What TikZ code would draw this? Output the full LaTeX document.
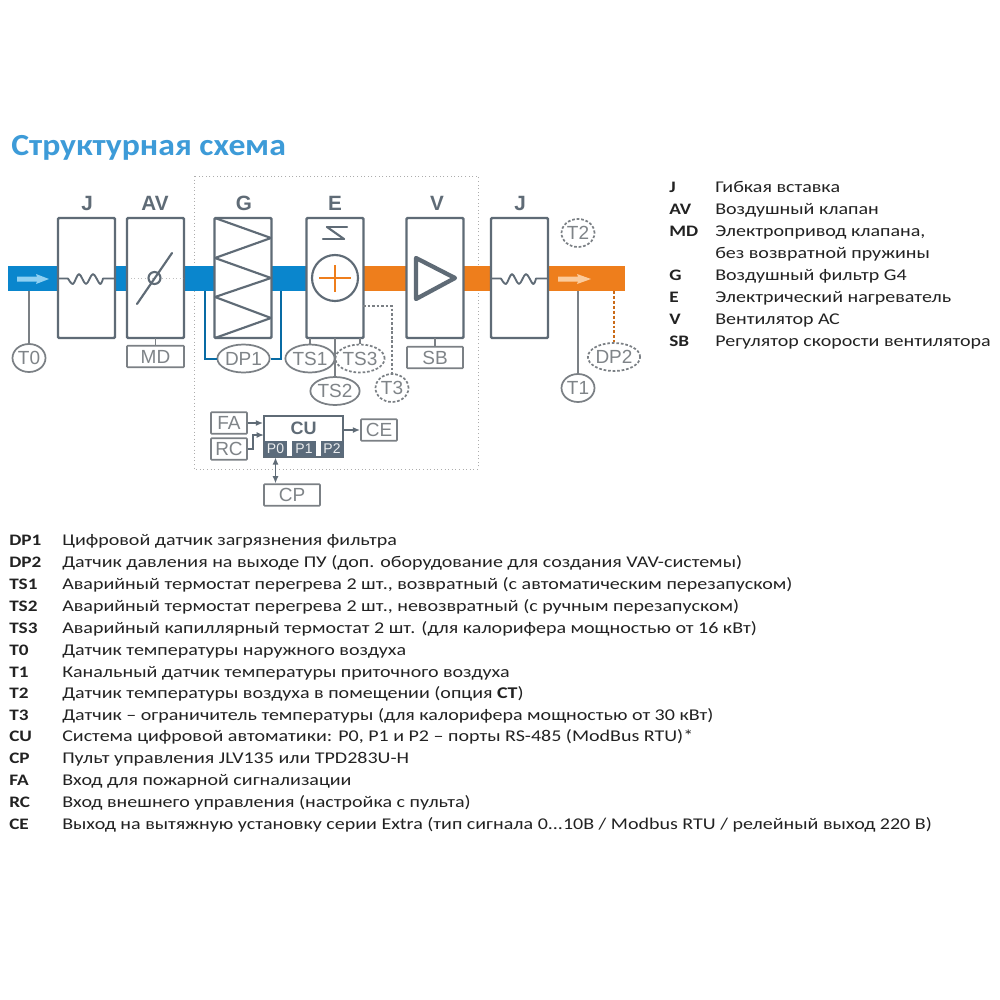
\documentclass[tikz,border=0pt]{standalone}
\usepackage{fontspec}
\setmainfont[FakeStretch=1.22]{Carlito}
\newfontfamily\keyf[FakeStretch=1.2]{Carlito}
\newfontfamily\titlef[FakeStretch=1.10]{Carlito}
\newfontfamily\arialf{Liberation Sans}
\usetikzlibrary{arrows.meta,shapes.geometric}
\definecolor{duB}{HTML}{0A86CD}
\definecolor{duO}{HTML}{EE7E1C}
\definecolor{arB}{HTML}{8FD0F2}
\definecolor{arO}{HTML}{FBCB9C}
\definecolor{lnG}{HTML}{5F6B76}
\definecolor{elG}{HTML}{7B8085}
\definecolor{txG}{HTML}{7F8488}
\definecolor{ttl}{HTML}{3D9BD8}
\definecolor{lgd}{HTML}{222222}
\definecolor{prt}{HTML}{5B6B7B}
\tikzset{
 x=0.75pt,y=-0.75pt,
 unitbox/.style={draw=lnG,fill=white,line width=1.8pt,rounded corners=0.8pt,minimum width=42.75pt,minimum height=90pt,inner sep=0pt},
 heading/.style={font=\arialf\bfseries\fontsize{15.5pt}{16pt}\selectfont,text=lnG,inner sep=0pt},
 sensor/.style={draw=elG,line width=1.3pt,ellipse,minimum width=#1*0.75pt,minimum height=21pt,inner sep=0pt,font=\arialf\fontsize{14.25pt}{15pt}\selectfont,text=txG},
 dsensor/.style={sensor=#1,dash pattern=on 2pt off 1.4pt},
 tagbox/.style={draw=elG,line width=1.3pt,rounded corners=0.5pt,minimum width=#1*0.75pt,minimum height=16pt,inner sep=0pt,font=\arialf\fontsize{14.25pt}{15pt}\selectfont,text=txG},
 portbox/.style={fill=prt,minimum height=12pt,minimum width=#1*0.75pt,inner sep=0pt,text=white!88!prt,font=\arialf\fontsize{10.5pt}{11pt}\selectfont},
 link/.style={draw=elG,line width=1.3pt},
 sig/.style={draw=lnG,line width=1.1pt,-{Latex[length=5.5pt,width=4.5pt]}},
 lkey/.style={anchor=base west,inner sep=0pt,text=lgd,font=\keyf\fontsize{12pt}{12pt}\selectfont\bfseries},
 ltext/.style={anchor=base west,inner sep=0pt,text=lgd,font=\fontsize{12.3pt}{12pt}\selectfont},
 symb/.style={draw=lnG,line width=1.6pt,line join=round,line cap=round},
}
\newcommand{\lrow}[5]{\node[lkey] (k#1) at (#2,#4) {#5};}
\newcommand{\ltxt}[4]{\node[ltext] (t#1) at (#2,#3) {#4};}
\begin{document}
\begin{tikzpicture}
\useasboundingbox[fill=white] (0,0) rectangle (1000,1000);
% title
\node[anchor=base west,inner sep=0pt,text=ttl,font=\titlef\fontsize{23pt}{24pt}\selectfont\bfseries] (title) at (11,155) {Структурная схема};
% frame
\draw[draw=black!32,line width=0.7pt,dotted] (194,176) rectangle (478,469);
% ducts
\fill[duB] (8,266) rectangle (310,291);
\fill[duO] (360,266) rectangle (625,291);
% unit boxes
\node[unitbox] (J1) at (86.5,278) {};
\node[unitbox] (AV) at (155.5,278) {};
\node[unitbox] (G) at (243,278) {};
\node[unitbox] (E) at (335,278) {};
\node[unitbox] (V) at (435,278) {};
\node[unitbox] (J2) at (519.5,278) {};
% headings
\node[heading] (hJ1) at (87,203) {J};
\node[heading] (hAV) at (155,203) {AV};
\node[heading] (hG) at (244,203) {G};
\node[heading] (hE) at (335,203) {E};
\node[heading] (hV) at (437,203) {V};
\node[heading] (hJ2) at (520,203) {J};
% flexible inserts
\draw[symb,line width=1.4pt] (59,278.5) -- (68,278.5) plot[smooth,tension=0.55] coordinates {(68,278.5) (73,284) (79,274) (86,284) (93,274) (100,284) (103,278.5)} -- (114,278.5);
\draw[symb,line width=1.4pt] (492,278.5) -- (501,278.5) plot[smooth,tension=0.55] coordinates {(501,278.5) (506,284) (512,274) (519,284) (526,274) (533,284) (536,278.5)} -- (547,278.5);
% flow arrows
\fill[arB] (17,276.5) -- (37,276.5) -- (36,274) -- (49,279) -- (36,284) -- (37,281.5) -- (17,281.5) -- cycle;
\fill[arO] (558,276.5) -- (578,276.5) -- (577,274) -- (591,279) -- (577,284) -- (578,281.5) -- (558,281.5) -- cycle;
% damper
\draw[black!25,line width=0.6pt,dotted] (131,278) -- (183,278);
\draw[symb] (137,304) -- (172,253);
\draw[symb] (154.5,278) circle[radius=6];
% filter
\draw[symb,line cap=butt] (215,218) -- (271,238) -- (215,258) -- (271,278) -- (215,297) -- (271,318) -- (215,338);
% heater
\draw[symb] (327,227) -- (347,227);
\draw[symb] (327,227) -- (344,239);
\draw[symb] (323,239) -- (344,239);
\draw[symb] (335,278) circle[radius=23];
\draw[duO,line width=1.8pt] (319,278) -- (351,278) (335,265) -- (335,292);
% fan
\draw[lnG,line width=3.2pt,line join=round] (416,258) -- (455,278) -- (416,299) -- cycle;
% sensors
\node[sensor=33] (T0) at (29,358) {T0};
\node[sensor=47] (DP1) at (243.5,358.5) {DP1};
\node[sensor=44] (TS1) at (310,358.5) {TS1};
\node[dsensor=44] (TS3) at (360,358.5) {TS3};
\node[sensor=44] (TS2) at (335,391) {TS2};
\node[dsensor=33] (T3) at (392,388) {T3};
\node[dsensor=33] (T2) at (578,233) {T2};
\node[sensor=33] (T1) at (578,388) {T1};
\node[dsensor=48] (DP2) at (614,357) {DP2};
\node[tagbox=57] (MD) at (155.5,356.5) {MD};
\node[tagbox=56] (SB) at (435,357.5) {SB};
% anchors on the units
\coordinate (t0p) at (29,291);
\coordinate (t1p) at (578,291);
\coordinate (dp2p) at (614,291);
\coordinate (dpl) at (205,291);
\coordinate (dpr) at (281,291);
\coordinate (mdp) at (155.5,338);
\coordinate (sbp) at (435,338);
\coordinate (ts1p) at (310,338);
\coordinate (ts2p) at (335,338);
\coordinate (ts3p) at (360,338);
\coordinate (t3p) at (363,306);
% sensor links
\draw[link] (t0p) -- (T0);
\draw[link] (t1p) -- (T1);
\draw[link] (mdp) -- (MD.north -| mdp);
\draw[link] (sbp) -- (SB.north -| sbp);
\draw[link] (ts1p) -- (TS1);
\draw[link] (ts2p) -- (TS2);
\draw[link] (ts3p) -- (TS3);
\draw[link,dash pattern=on 2pt off 1.4pt] (t3p) -| (T3);
\draw[duB!80!black,line width=1.5pt] (dpl) |- (DP1);
\draw[duB!80!black,line width=1.5pt] (dpr) |- (DP1);
\draw[duO!85!black,line width=2.2pt,dash pattern=on 2.2pt off 1.5pt] (dp2p) -- (DP2);
% controller
\node[draw=lnG,fill=white,line width=1.3pt,minimum width=59.25pt,minimum height=30.75pt,inner sep=0pt] (CU) at (303.5,436.5) {};
\node[heading,font=\arialf\bfseries\fontsize{13.5pt}{14pt}\selectfont] (CUt) at (303.5,428) {CU};
\node[portbox=23] (P0) at (275.5,449) {P0};
\node[portbox=24] (P1) at (304,449) {P1};
\node[portbox=23] (P2) at (332,449) {P2};
\node[tagbox=36] (FA) at (229,423) {FA};
\node[tagbox=36] (RC) at (229,449) {RC};
\node[tagbox=36] (CE) at (379,430) {CE};
\node[tagbox=56] (CP) at (292,495) {CP};
\draw[sig] (FA.east) -- (FA.east -| CU.west);
\coordinate (rcin) at (264,435);
\draw[sig] (RC.east) -- ++(5,0) |- (rcin);
\draw[sig] (CU.east |- CE) -- (CE.west);
\draw[sig,{Latex[length=5.5pt,width=4.5pt]}-{Latex[length=5.5pt,width=4.5pt]}] (P0.south) -- (P0.south |- CP.north);
% right legend
\lrow{a1}{669}{}{192}{J}\ltxt{a1}{715}{192}{Гибкая вставка}
\lrow{a2}{669}{}{214}{AV}\ltxt{a2}{715}{214}{Воздушный клапан}
\lrow{a3}{669}{}{236}{MD}\ltxt{a3}{715}{236}{Электропривод клапана,}
\ltxt{a3b}{715}{258}{без возвратной пружины}
\lrow{a4}{669}{}{280}{G}\ltxt{a4}{715}{280}{Воздушный фильтр G4}
\lrow{a5}{669}{}{302}{E}\ltxt{a5}{715}{302}{Электрический нагреватель}
\lrow{a6}{669}{}{324}{V}\ltxt{a6}{715}{324}{Вентилятор АС}
\lrow{a7}{669}{}{346}{SB}\ltxt{a7}{715}{346}{Регулятор скорости вентилятора}
% lower legend
\lrow{b1}{9}{}{545}{DP1}\ltxt{b1}{62}{545}{Цифровой датчик загрязнения фильтра}
\lrow{b2}{9}{}{567}{DP2}\ltxt{b2}{62}{567}{Датчик давления на выходе ПУ (доп. оборудование для создания VAV-системы)}
\lrow{b3}{9}{}{589}{TS1}\ltxt{b3}{62}{589}{Аварийный термостат перегрева 2 шт., возвратный (с автоматическим перезапуском)}
\lrow{b4}{9}{}{611}{TS2}\ltxt{b4}{62}{611}{Аварийный термостат перегрева 2 шт., невозвратный (с ручным перезапуском)}
\lrow{b5}{9}{}{633}{TS3}\ltxt{b5}{62}{633}{Аварийный капиллярный термостат 2 шт. (для калорифера мощностью от 16 кВт)}
\lrow{b6}{9}{}{655}{T0}\ltxt{b6}{62}{655}{Датчик температуры наружного воздуха}
\lrow{b7}{9}{}{677}{T1}\ltxt{b7}{62}{677}{Канальный датчик температуры приточного воздуха}
\lrow{b8}{9}{}{698}{T2}\ltxt{b8}{62}{698}{Датчик температуры воздуха в помещении (опция \textbf{CT})}
\lrow{b9}{9}{}{720}{T3}\ltxt{b9}{62}{720}{Датчик – ограничитель температуры (для калорифера мощностью от 30 кВт)}
\lrow{b10}{9}{}{741}{CU}\ltxt{b10}{62}{741}{Система цифровой автоматики: P0, P1 и P2 – порты RS-485 (ModBus RTU)*}
\lrow{b11}{9}{}{763}{CP}\ltxt{b11}{62}{763}{Пульт управления JLV135 или TPD283U-H}
\lrow{b12}{9}{}{785}{FA}\ltxt{b12}{62}{785}{Вход для пожарной сигнализации}
\lrow{b13}{9}{}{807}{RC}\ltxt{b13}{62}{807}{Вход внешнего управления (настройка с пульта)}
\lrow{b14}{9}{}{829}{CE}\ltxt{b14}{62}{829}{Выход на вытяжную установку серии Extra (тип сигнала 0...10В / Modbus RTU / релейный выход 220 В)}
\end{tikzpicture}
\end{document}
